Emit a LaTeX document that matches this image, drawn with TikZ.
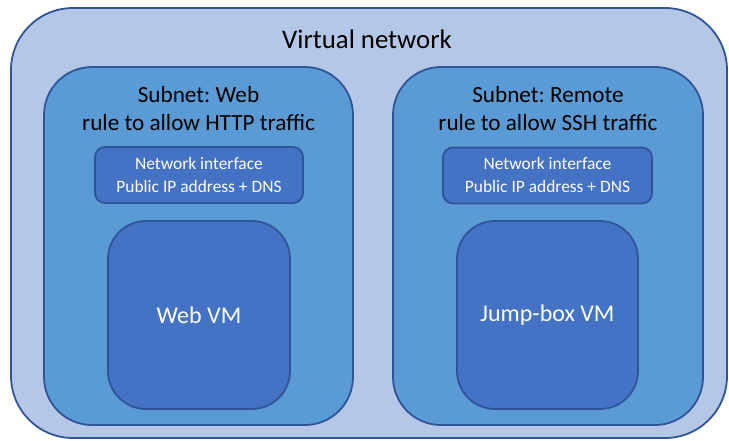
\documentclass[tikz,border=0pt]{standalone}
\usepackage{fontspec}
\setmainfont{Carlito}
\frenchspacing
\definecolor{vnetfill}{HTML}{B4C7E7}
\definecolor{subfill}{HTML}{5B9BD5}
\definecolor{vmfill}{HTML}{4472C4}
\definecolor{edge}{HTML}{2F5597}
\tikzset{
  box/.style={draw=edge, line width=1.8pt, rectangle, inner sep=0pt},
  vnetbox/.style={box, fill=vnetfill, rounded corners=62pt},
  subbox/.style={box, fill=subfill, rounded corners=48pt},
  nicbox/.style={box, fill=vmfill, rounded corners=10pt, text=white, align=center,
     font=\fontsize{17.4}{23}\selectfont},
  vmbox/.style={box, fill=vmfill, rounded corners=38pt, text=white,
     font=\fontsize{24}{29}\selectfont},
  title/.style={align=center, text=black, inner sep=0pt},
}
\begin{document}
\begin{tikzpicture}[x=1pt,y=-1pt]
\useasboundingbox (0,0) rectangle (729,440);
\node[vnetbox, minimum width=716pt, minimum height=430pt] (vnet) at (369,223) {};
\node[title, font=\fontsize{26.8}{32}\selectfont] (vnetlabel) at (367,39) {Virtual network};

\node[subbox, minimum width=309pt, minimum height=358pt] (subweb) at (198.5,246) {};
\node[subbox, minimum width=310pt, minimum height=358pt] (subremote) at (548,246) {};

\node[title, font=\fontsize{23.2}{28}\selectfont] (webtitle) at (198.5,109) {Subnet: Web\\rule to allow HTTP traffic};
\node[title, font=\fontsize{23.2}{28}\selectfont] (remotetitle) at (548,109) {Subnet: Remote\\rule to allow SSH traffic};

\node[nicbox, minimum width=208pt, minimum height=56pt] (nicweb) at (199,175) {Network interface\\Public IP address + DNS};
\node[nicbox, minimum width=209pt, minimum height=56pt] (nicremote) at (547.5,175.5) {Network interface\\Public IP address + DNS};

\node[vmbox, minimum width=182pt, minimum height=188pt] (webvm) at (199,315) {Web VM};
\node[vmbox, minimum width=181pt, minimum height=188pt] (jumpvm) at (547.5,315) {Jump-box VM};
\end{tikzpicture}
\end{document}
